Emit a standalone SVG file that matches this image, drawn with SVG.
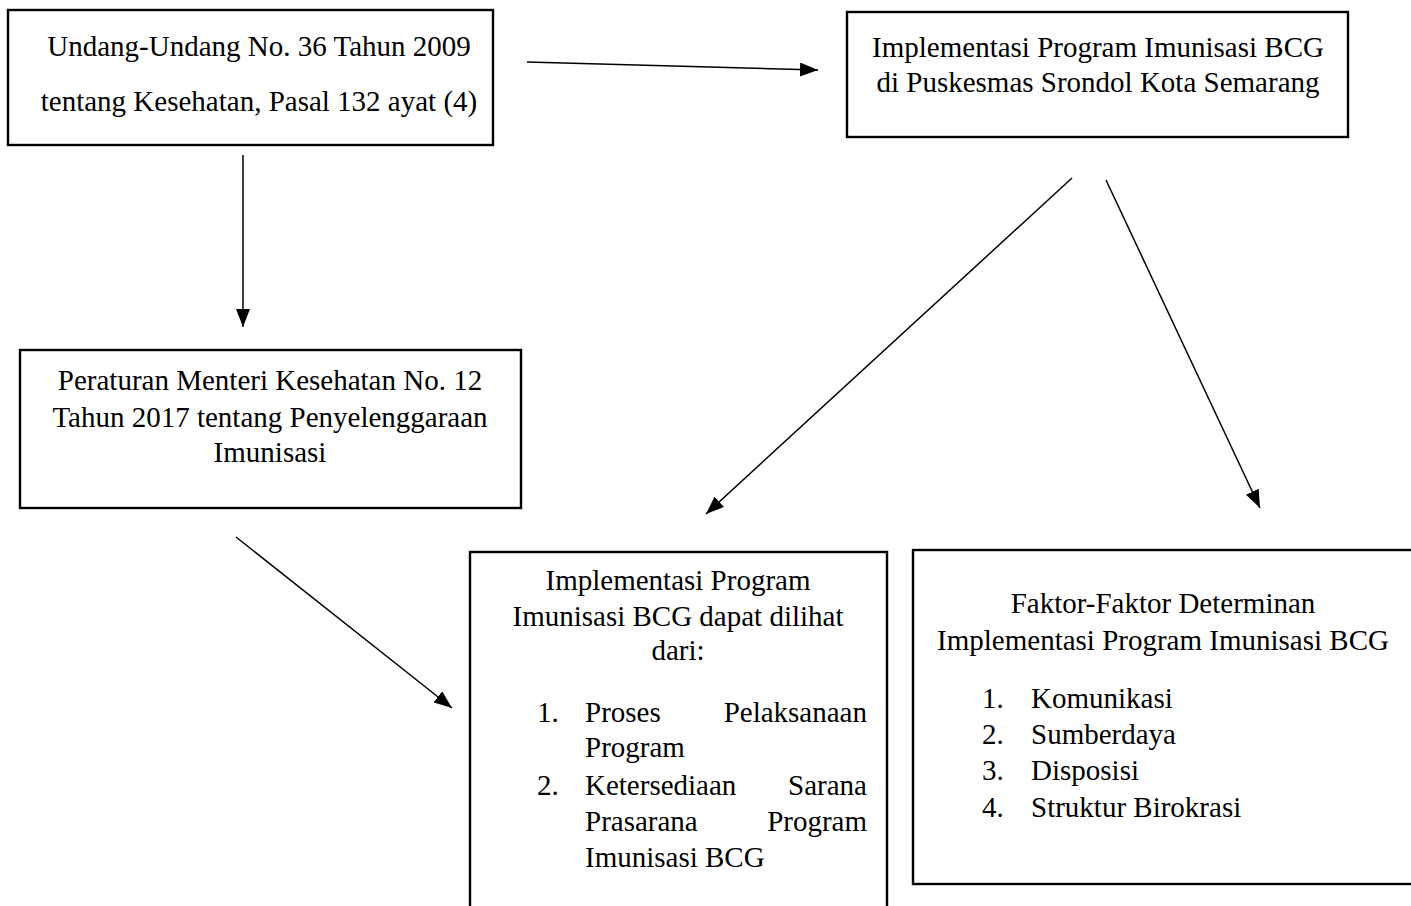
<svg xmlns="http://www.w3.org/2000/svg" width="1411" height="906" viewBox="0 0 1411 906">
<defs>
<style>
.box{fill:#fff;stroke:#000;stroke-width:2.4}
.t{font-family:"Liberation Serif","Times New Roman",serif;font-size:29px;fill:#000}
.c{text-anchor:middle}
.e{text-anchor:end}
.ln{stroke:#000;stroke-width:1.5;fill:none;marker-end:url(#ah)}
</style>
<marker id="ah" viewBox="0 0 18 14" refX="18" refY="7" markerWidth="18" markerHeight="14" markerUnits="userSpaceOnUse" orient="auto">
<path d="M0,0 L18,7 L0,14 Z" fill="#000"/>
</marker>
</defs>
<rect width="1411" height="906" fill="#fff"/>
<g id="connectors">
<line class="ln" x1="527" y1="62" x2="818" y2="70"/>
<line class="ln" x1="243" y1="155" x2="243" y2="327"/>
<line class="ln" x1="1072" y1="178" x2="706" y2="514"/>
<line class="ln" x1="1106" y1="180" x2="1260" y2="508"/>
<line class="ln" x1="236" y1="537" x2="452" y2="708"/>
</g>
<g id="node-uu">
<rect class="box" x="8" y="10" width="485" height="135"/>
<text class="t c" x="259" y="56">Undang-Undang No. 36 Tahun 2009</text>
<text class="t c" x="259" y="111">tentang Kesehatan, Pasal 132 ayat (4)</text>
</g>
<g id="node-impl">
<rect class="box" x="847" y="12" width="501" height="125"/>
<text class="t c" x="1098" y="57">Implementasi Program Imunisasi BCG</text>
<text class="t c" x="1098" y="92">di Puskesmas Srondol Kota Semarang</text>
</g>
<g id="node-permenkes">
<rect class="box" x="20" y="350" width="501" height="158"/>
<text class="t c" x="270" y="390">Peraturan Menteri Kesehatan No. 12</text>
<text class="t c" x="270" y="427">Tahun 2017 tentang Penyelenggaraan</text>
<text class="t c" x="270" y="462">Imunisasi</text>
</g>
<g id="node-dilihat">
<rect class="box" x="470" y="552" width="417" height="360"/>
<text class="t c" x="678" y="590">Implementasi Program</text>
<text class="t c" x="678" y="626">Imunisasi BCG dapat dilihat</text>
<text class="t c" x="678" y="660">dari:</text>
<text class="t" x="537" y="722">1.</text>
<text class="t" x="585" y="722">Proses</text>
<text class="t e" x="867" y="722">Pelaksanaan</text>
<text class="t" x="585" y="757">Program</text>
<text class="t" x="537" y="795">2.</text>
<text class="t" x="585" y="795">Ketersediaan</text>
<text class="t e" x="867" y="795">Sarana</text>
<text class="t" x="585" y="831">Prasarana</text>
<text class="t e" x="867" y="831">Program</text>
<text class="t" x="585" y="867">Imunisasi BCG</text>
</g>
<g id="node-faktor">
<rect class="box" x="913" y="550" width="510" height="334"/>
<text class="t c" x="1163" y="613">Faktor-Faktor Determinan</text>
<text class="t c" x="1163" y="650">Implementasi Program Imunisasi BCG</text>
<text class="t" x="982" y="708">1.</text>
<text class="t" x="1031" y="708">Komunikasi</text>
<text class="t" x="982" y="744">2.</text>
<text class="t" x="1031" y="744">Sumberdaya</text>
<text class="t" x="982" y="780">3.</text>
<text class="t" x="1031" y="780">Disposisi</text>
<text class="t" x="982" y="817">4.</text>
<text class="t" x="1031" y="817">Struktur Birokrasi</text>
</g>
</svg>
